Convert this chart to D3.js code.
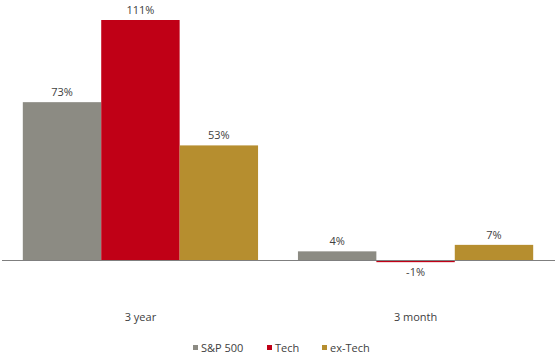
<!DOCTYPE html>
<html><head><meta charset="utf-8">
<script src="https://cdn.jsdelivr.net/npm/d3@7"></script>
<style>body{margin:0;background:#fff}svg{display:block}text{font-family:"Open Sans","Noto Sans",sans-serif;fill:#404040}</style>
</head><body><svg id="c" width="555" height="358"></svg>
<script>
const categories = ["3 year", "3 month"];
const seriesNames = ["S&P 500", "Tech", "ex-Tech"];
const seriesColors = ["#8c8b83", "#c00016", "#b68e2f"];
const sp500 = [73, 4];
const tech = [111, -1];
const exTech = [53, 7];
const values = [sp500, tech, exTech];

const svg = d3.select("#c");
const baseY = 260;
const y = d3.scaleLinear().domain([0, 111]).range([baseY, 20]);
const x0 = d3.scaleBand().domain(categories).range([3, 553]).paddingInner(0.145).paddingOuter(0.072);
const x1 = d3.scaleBand().domain(seriesNames).range([0, x0.bandwidth()]);

categories.forEach((cat, ci) => {
  const g = svg.append("g").attr("transform", `translate(${x0(cat)},0)`);
  seriesNames.forEach((s, si) => {
    const v = values[si][ci];
    const top = Math.min(y(v), y(0)), h = Math.max(Math.abs(y(v) - y(0)), 1.5);
    g.append("rect").attr("x", x1(s)).attr("width", x1.bandwidth()).attr("y", top).attr("height", h)
      .attr("fill", seriesColors[si]);
    g.append("text").attr("x", x1(s) + x1.bandwidth() / 2)
      .attr("y", v >= 0 ? y(v) - 6 : y(v) + 14)
      .attr("text-anchor", "middle").attr("font-size", 11).text(v + "%");
  });
  svg.append("text").attr("x", x0(cat) + x0.bandwidth() / 2).attr("y", 321)
    .attr("text-anchor", "middle").attr("font-size", 11).text(cat);
});

svg.append("line").attr("x1", 2).attr("x2", 555).attr("y1", baseY + 0.5).attr("y2", baseY + 0.5)
  .attr("stroke", "#7f7f7f").attr("stroke-width", 1);

const legX = [193, 267, 322];
const leg = svg.append("g");
seriesNames.forEach((s, i) => {
  leg.append("rect").attr("x", legX[i]).attr("y", 345).attr("width", 5).attr("height", 5).attr("fill", seriesColors[i]);
  leg.append("text").attr("x", legX[i] + 8).attr("y", 351.5).attr("font-size", 11).text(s);
});
</script></body></html>
